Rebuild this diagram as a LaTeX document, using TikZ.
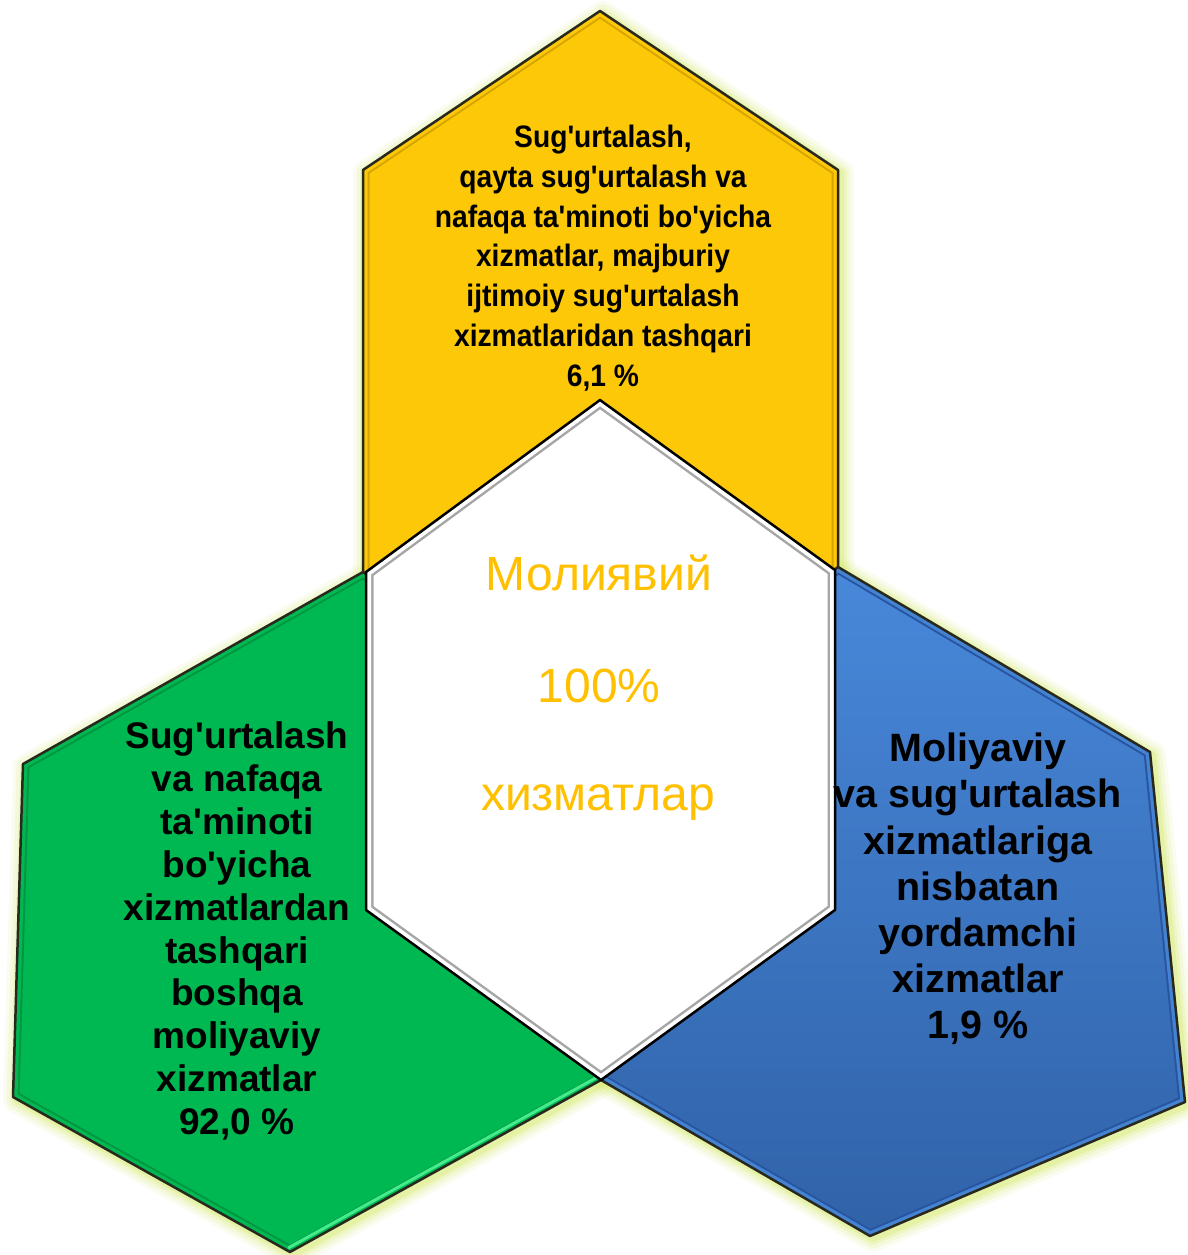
\documentclass[tikz,border=0pt]{standalone}
\usepackage{fontspec}
\setmainfont{Liberation Sans}
\newfontfamily\labelfont{Liberation Sans}
\newfontfamily\topfont{Liberation Sans}[FakeStretch=0.91]
\definecolor{yfill}{RGB}{252,200,8}
\definecolor{yband}{RGB}{214,165,0}
\definecolor{gfill}{RGB}{0,184,82}
\definecolor{gband}{RGB}{0,150,66}
\definecolor{glight}{RGB}{70,235,140}
\definecolor{btop}{RGB}{72,136,218}
\definecolor{bbot}{RGB}{48,98,168}
\definecolor{bband}{RGB}{40,85,160}
\definecolor{outl}{RGB}{40,40,30}
\definecolor{glowc}{RGB}{215,235,110}
\definecolor{ctext}{RGB}{255,192,0}
\newcommand{\ypoly}{(600,11) -- (838,170) -- (838,620) -- (600,700) -- (363,620) -- (363,170) -- cycle}
\newcommand{\gpoly}{(363,572) -- (23,764) -- (13,1097) -- (290,1252) -- (601,1080) -- (601,745) -- cycle}
\newcommand{\bpoly}{(838,567) -- (1150,752) -- (1185,1102) -- (870,1236) -- (601,1080) -- (601,745) -- cycle}
\newcommand{\wpoly}{(600,400) -- (835,570) -- (835,910) -- (601,1080) -- (366,910) -- (366,572) -- cycle}
\tikzset{
  outline/.style={draw=outl, line width=2.5, line join=round},
  sidelabel/.style={align=center, text=black, inner sep=0pt},
  centerlabel/.style={text=ctext, inner sep=0pt, font=\labelfont\fontsize{48}{50}\selectfont, anchor=base}
}
\begin{document}
\begin{tikzpicture}[x=1pt,y=-1pt]
\path[use as bounding box, fill=white] (0,0) rectangle (1187,1255);
% glow
\foreach \w/\o in {26/0.10,19/0.15,12/0.22,6/0.35}{
  \draw[glowc, line width=\w, opacity=\o, line join=round, shift={(3,3)}] \ypoly;
  \draw[glowc, line width=\w, opacity=\o, line join=round, shift={(3,3)}] \gpoly;
  \draw[glowc, line width=\w, opacity=\o, line join=round, shift={(3,3)}] \bpoly;
}
% yellow
\fill[yfill] \ypoly;
\begin{scope}
  \clip \ypoly;
  \draw[yband, line width=13, line join=round] \ypoly;
  \draw[yfill, line width=9, line join=round] \ypoly;
\end{scope}
\draw[outline] \ypoly;
% green
\fill[gfill] \gpoly;
\begin{scope}
  \clip \gpoly;
  \draw[gband, line width=13, line join=round] \gpoly;
  \draw[gfill, line width=9, line join=round] \gpoly;
  \draw[glight, line width=3] (288,1248) -- (601,1075);
\end{scope}
\draw[outline] \gpoly;
% blue
\shade[top color=btop, bottom color=bbot] \bpoly;
\begin{scope}
  \clip \bpoly;
  \draw[bband, line width=13, line join=round] \bpoly;
  \draw[btop!85!bbot, line width=9, line join=round] \bpoly;
\end{scope}
\draw[outline] \bpoly;
% white centre
\fill[white] \wpoly;
\begin{scope}
  \clip \wpoly;
  \draw[black!35, line width=15, line join=round] \wpoly;
  \draw[white, line width=10, line join=round] \wpoly;
\end{scope}
\draw[outline, draw=black] \wpoly;
% texts
\node[sidelabel, font=\topfont\bfseries\fontsize{31}{39.8}\selectfont] (ytext) at (603,258)
  {Sug'urtalash,\\ qayta sug'urtalash va\\ nafaqa ta'minoti bo'yicha\\ xizmatlar, majburiy\\ ijtimoiy sug'urtalash\\ xizmatlaridan tashqari\\ 6,1 \%};
\node[sidelabel, font=\labelfont\bfseries\fontsize{37}{42.9}\selectfont] (gtext) at (237,931)
  {Sug'urtalash\\ va nafaqa\\ ta'minoti\\ bo'yicha\\ xizmatlardan\\ tashqari\\ boshqa\\ moliyaviy\\ xizmatlar\\ 92,0 \%};
\node[sidelabel, font=\labelfont\bfseries\fontsize{39.5}{46.2}\selectfont] (btext) at (978,889)
  {Moliyaviy\\ va sug'urtalash\\ xizmatlariga\\ nisbatan\\ yordamchi\\ xizmatlar\\ 1,9 \%};
\node[centerlabel] (c1) at (599,590) {Молиявий};
\node[centerlabel] (c2) at (599,702) {100\%};
\node[centerlabel] (c3) at (598,810) {хизматлар};
\end{tikzpicture}
\end{document}
